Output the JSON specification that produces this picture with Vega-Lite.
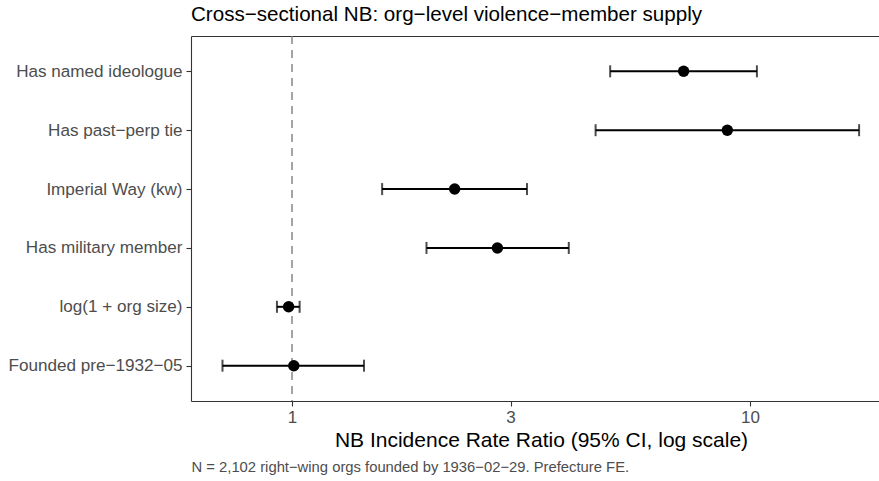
{
  "$schema": "https://vega.github.io/schema/vega-lite/v6.json",
  "width": 688,
  "height": 365,
  "autosize": "none",
  "padding": {"left": 191, "top": 36, "right": 0, "bottom": 80},
  "background": "white",
  "config": {"view": {"stroke": null}, "font": "Liberation Sans"},
  "title": {
    "text": "Cross−sectional NB: org−level violence−member supply",
    "anchor": "start",
    "frame": "group",
    "font": "Liberation Sans",
    "fontSize": 20.6,
    "fontWeight": "normal",
    "color": "black",
    "offset": 10
  },
  "datasets": {
    "est": [
      {"term": "Has named ideologue", "irr": 7.16, "lo": 4.95, "hi": 10.35},
      {"term": "Has past−perp tie", "irr": 8.92, "lo": 4.60, "hi": 17.30},
      {"term": "Imperial Way (kw)", "irr": 2.265, "lo": 1.573, "hi": 3.258},
      {"term": "Has military member", "irr": 2.808, "lo": 1.966, "hi": 4.02},
      {"term": "log(1 + org size)", "irr": 0.983, "lo": 0.927, "hi": 1.039},
      {"term": "Founded pre−1932−05", "irr": 1.009, "lo": 0.705, "hi": 1.436}
    ],
    "ref": [{"ref": 1}]
  },
  "encoding": {
    "y": {
      "field": "term",
      "type": "nominal",
      "sort": null,
      "scale": {"type": "point", "padding": 0.6},
      "axis": {
        "title": null,
        "labelFont": "Liberation Sans",
        "labelFontSize": 17.1,
        "labelColor": "#4D4D4D",
        "labelPadding": 4,
        "tickSize": 5,
        "tickColor": "#333333",
        "tickWidth": 1.1,
        "domainColor": "#333333",
        "domainWidth": 1.1,
        "gridColor": "#EBEBEB",
        "gridWidth": 1.1
      }
    }
  },
  "layer": [
    {
      "data": {"name": "ref"},
      "mark": {"type": "rule", "color": "#7F7F7F", "strokeWidth": 1.4, "strokeDash": [8, 6]},
      "encoding": {
        "x": {
          "field": "ref",
          "type": "quantitative",
          "scale": {"type": "log", "domain": [0.6018, 19.12], "nice": false, "zero": false},
          "axis": {"orient": "top", "title": null, "labels": false, "ticks": false, "grid": false, "domain": true, "domainColor": "#333333", "domainWidth": 1.1}
        },
        "y": null
      }
    },
    {
      "data": {"name": "est"},
      "encoding": {
        "x": {
          "field": "lo",
          "type": "quantitative",
          "scale": {"type": "log", "domain": [0.6018, 19.12], "nice": false, "zero": false},
          "axis": {
            "orient": "bottom",
            "values": [1, 3, 10],
            "format": "d",
            "title": "NB Incidence Rate Ratio (95% CI, log scale)",
            "titleFont": "Liberation Sans",
            "titleFontSize": 21,
            "titleFontWeight": "normal",
            "titleColor": "black",
            "titlePadding": 4,
            "titleX": 350,
            "labelFont": "Liberation Sans",
            "labelFontSize": 17,
            "labelColor": "#4D4D4D",
            "labelPadding": 3,
            "tickSize": 5,
            "tickColor": "#333333",
            "tickWidth": 1.1,
            "domainColor": "#333333",
            "domainWidth": 1.1,
            "gridColor": "#EBEBEB",
            "gridWidth": 1.1
          }
        }
      },
      "layer": [
        {
          "mark": {"type": "rule", "color": "black", "strokeWidth": 2},
          "encoding": {"x2": {"field": "hi"}}
        },
        {
          "mark": {"type": "tick", "color": "black", "size": 12, "thickness": 2, "orient": "vertical"},
          "encoding": {}
        },
        {
          "mark": {"type": "tick", "color": "black", "size": 12, "thickness": 2, "orient": "vertical"},
          "encoding": {"x": {"field": "hi", "type": "quantitative"}}
        }
      ]
    },
    {
      "data": {"name": "est"},
      "mark": {"type": "point", "filled": true, "color": "black", "opacity": 1, "size": 130},
      "encoding": {
        "x": {
          "field": "irr",
          "type": "quantitative",
          "scale": {"type": "log", "domain": [0.6018, 19.12], "nice": false, "zero": false},
          "axis": {
            "orient": "bottom",
            "title": "N = 2,102 right−wing orgs founded by 1936−02−29. Prefecture FE.",
            "titleAnchor": "start",
            "titleFont": "Liberation Sans",
            "titleFontSize": 14.8,
            "titleFontWeight": "normal",
            "titleColor": "#4D4D4D",
            "titlePadding": 58,
            "labels": false,
            "ticks": false,
            "domain": false,
            "grid": false
          }
        }
      }
    }
  ],
  "resolve": {"scale": {"x": "independent"}, "axis": {"x": "independent"}}
}
